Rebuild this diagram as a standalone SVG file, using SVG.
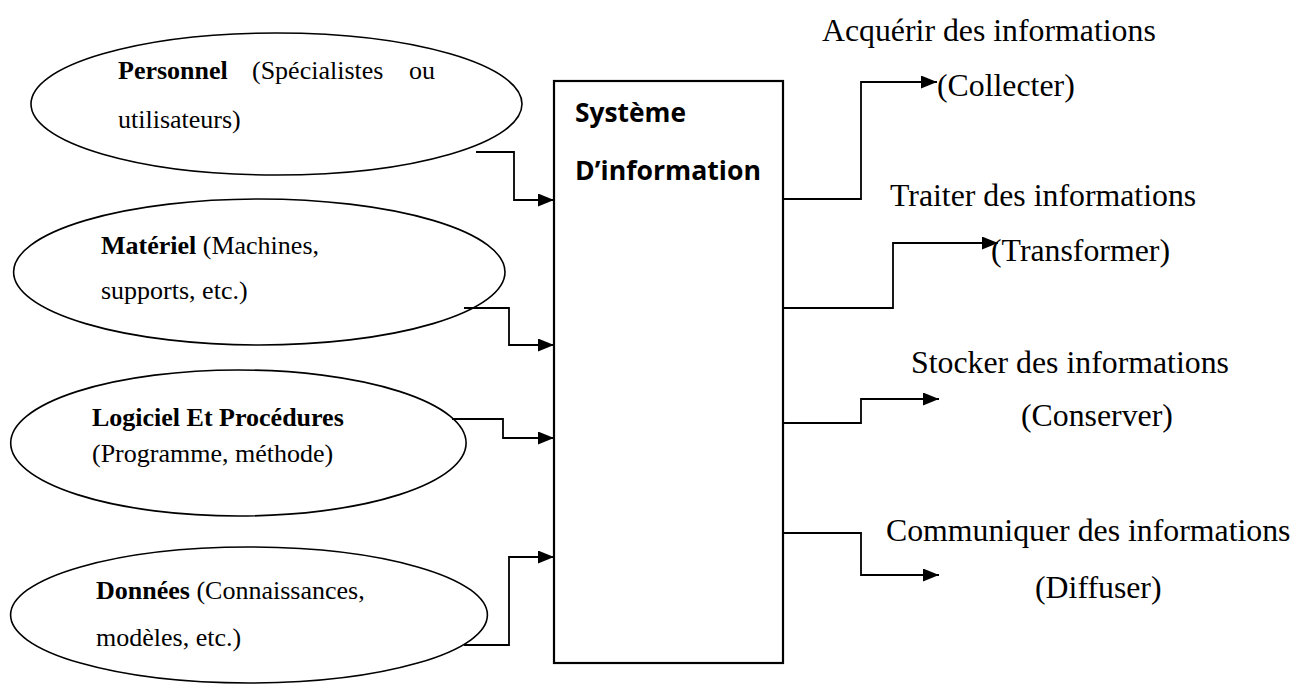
<svg xmlns="http://www.w3.org/2000/svg" width="1298" height="686" viewBox="0 0 1298 686">
  <style>
    .bg { fill: #ffffff; }
    .node-shape { fill: #ffffff; stroke: #000000; stroke-width: 1.6; }
    .box { fill: #ffffff; stroke: #000000; stroke-width: 2.2; }
    .lbl { font-family: "Liberation Serif", "Times New Roman", serif; font-size: 26px; fill: #000000; }
    .lbl-r { font-family: "Liberation Serif", "Times New Roman", serif; font-size: 31.8px; fill: #000000; }
    .b { font-weight: bold; }
    .title { font-family: "Open Sans", "Liberation Sans", sans-serif; font-size: 27px; font-weight: bold; fill: #000000; }
    .wire { fill: none; stroke: #000000; stroke-width: 1.8; }
  </style>
  <defs>
    <marker id="arrow" markerUnits="userSpaceOnUse" markerWidth="17" markerHeight="14" refX="16" refY="6.5" orient="auto">
      <path d="M0,0 L16,6.5 L0,13 Z" fill="#000000"/>
    </marker>
  </defs>

  <rect class="bg" x="0" y="0" width="1298" height="686"/>

  <!-- Input resources -->
  <g id="personnel">
    <ellipse class="node-shape" cx="276.5" cy="104" rx="245.5" ry="71"/>
    <text class="lbl" y="79"><tspan class="b" x="118">Personnel</tspan><tspan x="252">(Spécialistes</tspan><tspan x="409">ou</tspan></text>
    <text class="lbl" x="118" y="128">utilisateurs)</text>
  </g>

  <g id="materiel">
    <ellipse class="node-shape" cx="259.3" cy="272" rx="245.7" ry="73"/>
    <text class="lbl" x="101" y="254"><tspan class="b">Matériel</tspan> (Machines,</text>
    <text class="lbl" x="101" y="299">supports, etc.)</text>
  </g>

  <g id="logiciel">
    <ellipse class="node-shape" cx="238.4" cy="443" rx="227.7" ry="73"/>
    <text class="lbl b" x="92" y="426">Logiciel Et Procédures</text>
    <text class="lbl" x="92" y="462">(Programme, méthode)</text>
  </g>

  <g id="donnees">
    <ellipse class="node-shape" cx="249" cy="615" rx="238.4" ry="68"/>
    <text class="lbl" x="96" y="599"><tspan class="b">Données</tspan> (Connaissances,</text>
    <text class="lbl" x="96" y="646">modèles, etc.)</text>
  </g>

  <!-- Central system -->
  <g id="systeme">
    <rect class="box" x="554" y="81" width="229" height="582"/>
    <text class="title" x="575" y="122" textLength="111" lengthAdjust="spacingAndGlyphs">Système</text>
    <text class="title" x="575" y="180" textLength="186" lengthAdjust="spacingAndGlyphs">D’information</text>
  </g>

  <!-- Output functions -->
  <g id="collecter">
    <text class="lbl-r" x="822" y="41">Acquérir des informations</text>
    <text class="lbl-r" x="937" y="96">(Collecter)</text>
  </g>

  <g id="transformer">
    <text class="lbl-r" x="890" y="206">Traiter des informations</text>
    <text class="lbl-r" x="991" y="261">(Transformer)</text>
  </g>

  <g id="conserver">
    <text class="lbl-r" x="911" y="373">Stocker des informations</text>
    <text class="lbl-r" x="1021" y="426">(Conserver)</text>
  </g>

  <g id="diffuser">
    <text class="lbl-r" x="886" y="541">Communiquer des informations</text>
    <text class="lbl-r" x="1035" y="598">(Diffuser)</text>
  </g>

  <!-- Connectors -->
  <g id="connectors">
    <polyline class="wire" points="476,152 514,152 514,200 554,200" marker-end="url(#arrow)"/>
    <polyline class="wire" points="464,308 509,308 509,345 554,345" marker-end="url(#arrow)"/>
    <polyline class="wire" points="452,419 503,419 503,438 554,438" marker-end="url(#arrow)"/>
    <polyline class="wire" points="464,645 509,645 509,557 554,557" marker-end="url(#arrow)"/>

    <polyline class="wire" points="783,199 861,199 861,82 937,82" marker-end="url(#arrow)"/>
    <polyline class="wire" points="783,308 893,308 893,243 998,243" marker-end="url(#arrow)"/>
    <polyline class="wire" points="783,423 861,423 861,399 939,399" marker-end="url(#arrow)"/>
    <polyline class="wire" points="783,533 861,533 861,575 939,575" marker-end="url(#arrow)"/>
  </g>
</svg>
